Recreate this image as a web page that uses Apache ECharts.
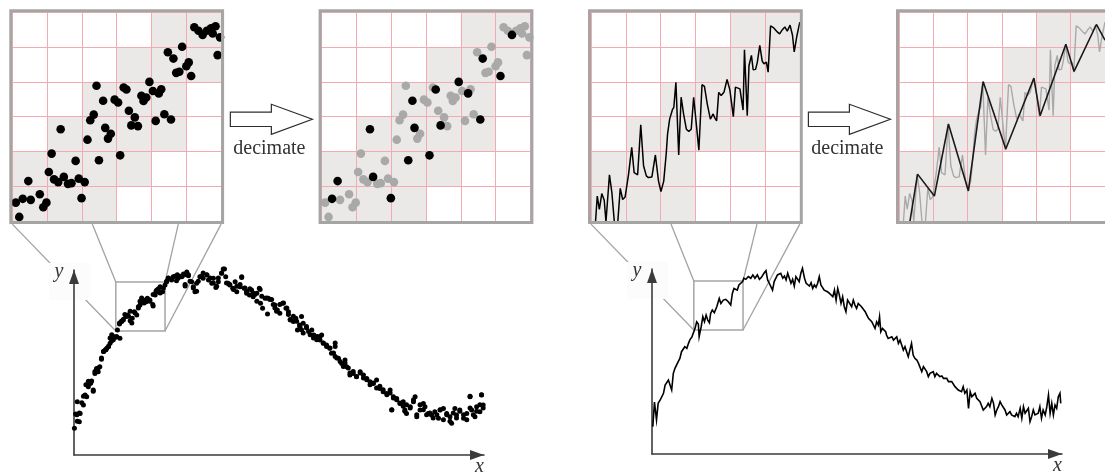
<!DOCTYPE html>
<html>
<head>
<meta charset="utf-8">
<script src="https://cdn.jsdelivr.net/npm/echarts@6/dist/echarts.min.js"></script>
<style>
  html, body { margin: 0; padding: 0; background: #ffffff; }
  #chart { width: 1105px; height: 475px; }
</style>
</head>
<body>
<div id="chart"></div>
<script>
// ---- data -------------------------------------------------------------

// Full scatter (x, y) in plot units: x 0..10, y 0..10
const scatterPoints = [
  [0.01,1.44],[0.04,2.22],[0.13,1.80],[0.15,2.25],[0.08,2.88],[0.19,2.83],[0.23,2.70],[0.27,3.24],
  [0.31,3.15],[0.35,3.69],[0.39,3.87],[0.43,4.00],[0.47,3.51],[0.51,4.41],[0.55,4.68],[0.59,4.50],
  [0.63,4.77],[0.67,5.17],[0.72,5.59],[0.76,5.68],[0.80,5.77],[0.84,5.86],[0.88,6.04],[0.92,6.18],
  [0.96,6.40],[1.02,6.36],[1.12,6.31],[1.06,6.76],[1.11,7.08],[1.16,7.21],[1.20,7.30],[1.27,7.48],
  [1.31,7.57],[1.37,7.26],[1.42,7.39],[1.47,7.75],[1.53,7.57],[1.57,8.02],[1.61,8.11],[1.65,8.38],
  [1.69,8.38],[1.76,8.29],[1.79,8.47],[1.85,8.38],[1.93,8.05],[1.98,8.65],[2.02,8.92],[2.06,8.83],
  [2.10,9.10],[2.16,8.83],[2.22,9.19],[2.26,9.37],[2.30,9.55],[2.38,9.46],[2.42,9.64],[2.50,9.42],
  [2.54,9.55],[2.63,9.64],[2.68,9.73],[2.75,9.82],[2.79,9.69],[2.71,9.14],[2.87,9.37],[2.91,9.10],
  [2.95,8.83],[2.99,9.28],[3.07,9.64],[3.15,9.55],[3.24,9.73],[3.28,9.46],[3.36,9.28],[3.40,9.55],
  [3.46,9.06],[3.52,9.37],[3.60,9.82],[3.64,10.05],[3.70,9.64],[3.76,9.28],[3.80,9.19],[3.87,9.01],
  [3.93,9.37],[3.97,8.83],[4.05,9.10],[4.09,9.64],[4.15,9.01],[4.21,8.74],[4.28,8.65],[4.33,8.92],
  [4.37,8.56],[4.46,8.74],[4.52,9.01],[4.55,8.20],[4.60,7.93],[4.66,8.47],[4.74,8.47],[4.72,7.62],
  [4.82,8.41],[4.90,8.11],[4.96,7.84],[5.02,7.66],[5.09,8.20],[5.17,7.93],[5.23,7.75],[5.28,7.30],
  [5.35,7.21],[5.41,7.39],[5.45,6.76],[5.50,7.03],[5.55,7.48],[5.59,7.12],[5.67,6.94],[5.72,6.67],
  [5.80,6.76],[5.85,6.49],[5.93,6.40],[6.00,6.22],[6.04,6.49],[6.08,6.04],[6.16,5.95],[6.24,5.77],
  [6.28,5.50],[6.37,5.86],[6.37,5.32],[6.45,5.23],[6.53,4.95],[6.61,5.14],[6.65,4.77],[6.73,4.32],
  [6.81,4.41],[6.89,4.23],[6.98,4.50],[7.06,4.32],[7.14,4.14],[7.22,3.96],[7.30,3.87],[7.38,4.05],
  [7.46,3.60],[7.54,3.42],[7.63,3.33],[7.71,3.51],[7.75,2.43],[7.79,3.15],[7.87,3.06],[7.95,2.79],
  [8.03,2.88],[8.07,2.43],[8.11,2.25],[8.20,2.61],[8.28,2.88],[8.32,3.15],[8.36,2.07],[8.44,2.43],
  [8.52,2.79],[8.56,2.61],[8.64,2.25],[8.72,2.16],[8.80,2.34],[8.89,1.98],[8.93,2.43],[9.01,2.52],
  [9.09,2.25],[9.17,2.07],[9.21,1.71],[9.29,2.52],[9.33,2.16],[9.41,2.43],[9.50,1.98],[9.58,2.25],
  [9.66,3.15],[9.70,2.43],[9.78,2.07],[9.82,2.61],[9.90,2.34],[9.94,3.24],[9.98,2.70],
  [0.07,2.18],[0.13,2.27],[0.08,1.82],[0.23,3.17],[0.29,3.80],[0.35,3.98],[0.41,3.89],[0.47,3.44],
  [0.51,4.52],[0.59,4.70],[0.67,5.24],[0.72,5.60],[0.78,5.69],[0.84,5.87],[0.88,6.32],[0.92,6.50],
  [0.96,6.23],[1.04,6.41],[1.11,7.14],[1.16,7.23],[1.20,7.32],[1.24,7.59],[1.33,7.50],[1.37,7.77],
  [1.41,7.14],[1.49,7.68],[1.57,7.95],[1.61,8.31],[1.65,8.49],[1.71,8.22],[1.77,8.40],[1.85,8.31],
  [1.92,8.13],[1.93,8.67],[2.00,8.85],[2.06,8.99],[2.10,8.76],[2.18,9.03],[2.26,9.39],[2.30,9.57],
  [2.38,9.53],[2.46,9.66],[2.52,9.75],[2.59,9.66],[2.67,9.78],[2.75,9.89],[2.79,9.75],[2.71,9.21],
  [2.83,9.39],[2.91,9.03],[2.99,8.85],[3.03,9.39],[3.11,9.66],[3.15,9.84],[3.24,9.75],[3.32,9.57],
  [3.40,9.30],[3.48,9.12],[3.52,9.57],[3.60,9.84],[3.67,10.05],[3.72,9.30],[3.80,9.21],[3.89,8.94],
  [3.97,9.12],[4.05,9.21],[4.09,9.60],[4.17,9.03],[4.21,8.85],[4.29,8.99],[4.37,8.76],[4.41,8.67],
  [4.46,8.31],[4.54,8.94],[4.58,8.58],[4.70,8.49],[4.78,8.40],[4.86,8.13],[4.90,7.95],[4.94,7.77],
  [5.02,8.13],[5.11,8.22],[5.19,7.95],[5.23,7.59],[5.27,7.32],[5.35,7.50],[5.43,7.23],[5.51,6.95],
  [5.55,6.77],[5.59,6.59],[5.67,6.86],[5.76,6.50],[5.84,6.32],[5.92,6.23],[6.00,6.41],[6.08,6.05],
  [6.16,5.87],[6.24,5.78],[6.33,5.51],[6.37,6.05],[6.41,5.24],[6.49,5.06],[6.57,4.79],[6.61,4.97],
  [6.69,4.70],[6.73,4.43],[6.81,4.52],[6.89,4.25],[6.98,4.43],[7.06,4.16],[7.14,4.07],[7.22,3.80],
  [7.30,3.89],[7.38,3.62],[7.46,3.71],[7.54,3.53],[7.63,3.26],[7.71,3.35],[7.75,2.45],[7.79,3.08],
  [7.87,2.99],[7.95,2.81],[8.03,2.63],[8.07,2.36],[8.11,2.72],[8.20,2.54],[8.28,2.99],[8.36,2.18],
  [8.44,2.72],[8.52,2.45],[8.60,2.18],[8.68,2.27],[8.76,2.00],[8.85,2.18],[8.93,2.45],[9.01,1.91],
  [9.09,2.18],[9.17,1.82],[9.25,2.27],[9.33,2.00],[9.41,2.36],[9.50,2.18],[9.58,1.91],[9.66,2.54],
  [9.74,2.18],[9.82,2.36],[9.90,2.72],[9.98,2.54],[9.66,3.17],[9.94,3.26]
];

// Full line series (x, y) in plot units
const linePoints = [
  [0.02,1.48],[0.06,2.81],[0.11,1.84],[0.15,2.74],[0.20,2.92],[0.24,3.10],[0.28,3.28],[0.32,3.73],
  [0.36,3.82],[0.40,4.00],[0.44,3.91],[0.48,3.46],[0.52,4.36],[0.56,4.63],[0.60,4.54],[0.64,4.99],
  [0.68,5.17],[0.72,5.53],[0.76,5.62],[0.80,5.80],[0.85,5.71],[0.89,5.98],[0.93,6.20],[0.97,6.31],
  [1.01,6.34],[1.05,6.79],[1.09,7.15],[1.13,7.03],[1.15,6.34],[1.20,6.88],[1.24,7.42],[1.28,7.15],
  [1.32,7.51],[1.36,7.24],[1.40,7.10],[1.43,7.60],[1.47,7.78],[1.52,7.64],[1.58,7.96],[1.64,8.41],
  [1.68,8.14],[1.74,8.32],[1.80,8.36],[1.86,8.23],[1.92,8.05],[1.96,8.68],[2.00,8.95],[2.04,9.05],
  [2.08,8.86],[2.12,9.14],[2.16,9.08],[2.21,9.32],[2.24,9.50],[2.29,9.44],[2.35,9.59],[2.41,9.50],
  [2.46,9.68],[2.51,9.50],[2.57,9.68],[2.62,9.44],[2.67,9.55],[2.73,9.77],[2.78,9.91],[2.82,9.41],
  [2.86,9.23],[2.90,9.05],[2.94,8.86],[2.98,9.32],[3.02,9.41],[3.06,9.68],[3.10,9.59],[3.14,9.77],
  [3.19,9.50],[3.23,9.62],[3.27,9.41],[3.31,9.77],[3.35,9.68],[3.39,9.23],[3.43,9.44],[3.47,9.08],
  [3.51,9.59],[3.55,9.68],[3.59,9.32],[3.63,9.77],[3.67,10.04],[3.72,9.50],[3.76,9.23],[3.80,9.32],
  [3.84,9.08],[3.88,9.26],[3.92,8.95],[3.96,9.14],[4.00,9.01],[4.04,9.23],[4.08,9.59],[4.12,9.14],
  [4.16,9.14],[4.20,8.86],[4.24,8.95],[4.28,8.77],[4.33,8.68],[4.37,8.77],[4.41,8.50],[4.45,8.86],
  [4.49,8.32],[4.53,8.95],[4.57,8.59],[4.61,8.14],[4.65,8.50],[4.69,7.96],[4.73,7.69],[4.77,8.32],
  [4.81,8.41],[4.87,7.96],[4.91,8.32],[4.95,8.05],[4.99,7.87],[5.03,8.14],[5.07,8.14],[5.11,7.96],
  [5.15,8.05],[5.20,7.69],[5.24,7.51],[5.28,7.33],[5.32,7.33],[5.36,7.15],[5.40,7.24],[5.44,6.79],
  [5.48,7.15],[5.52,6.97],[5.55,7.42],[5.58,6.61],[5.62,6.79],[5.66,6.79],[5.70,6.61],[5.72,6.43],
  [5.76,6.25],[5.80,6.16],[5.85,6.34],[5.89,6.16],[5.93,6.25],[5.97,6.34],[6.01,5.98],[6.05,6.16],
  [6.09,5.89],[6.13,5.62],[6.17,5.80],[6.21,5.53],[6.25,5.26],[6.29,5.62],[6.33,5.98],[6.37,5.35],
  [6.41,5.17],[6.46,5.08],[6.50,4.90],[6.54,4.99],[6.58,4.45],[6.62,4.72],[6.66,4.81],[6.70,4.45],
  [6.74,4.18],[6.78,4.36],[6.82,4.27],[6.86,4.45],[6.90,4.18],[6.94,4.36],[6.98,4.27],[7.02,4.18],
  [7.07,4.22],[7.11,4.09],[7.15,4.00],[7.19,4.09],[7.23,3.91],[7.27,3.82],[7.31,3.91],[7.35,4.00],
  [7.39,3.64],[7.43,3.73],[7.47,3.46],[7.51,3.55],[7.55,3.37],[7.59,3.64],[7.63,3.28],[7.68,3.46],
  [7.72,2.47],[7.76,3.37],[7.80,3.10],[7.84,3.01],[7.88,3.28],[7.92,3.01],[7.96,3.10],[8.00,2.83],
  [8.04,2.74],[8.08,2.38],[8.12,2.47],[8.16,2.56],[8.20,2.74],[8.24,2.56],[8.29,3.01],[8.33,2.74],
  [8.37,2.11],[8.41,2.38],[8.45,2.56],[8.49,2.83],[8.53,2.65],[8.57,2.65],[8.61,2.38],[8.65,2.11],
  [8.69,2.20],[8.73,2.29],[8.77,2.11],[8.81,2.11],[8.85,2.02],[8.89,2.20],[8.93,2.02],[8.98,2.47],
  [9.02,1.93],[9.06,2.56],[9.10,2.20],[9.14,2.11],[9.18,2.47],[9.22,1.75],[9.26,2.02],[9.30,2.38],
  [9.34,2.11],[9.38,2.02],[9.42,2.20],[9.46,2.56],[9.50,1.93],[9.54,2.38],[9.59,2.11],[9.63,2.56],
  [9.67,3.19],[9.71,2.20],[9.75,2.74],[9.79,2.11],[9.83,2.65],[9.87,2.47],[9.91,3.10],[9.95,3.28],
  [9.97,2.74]
];

// Zoom window shown in both magnified panels (plot units)
const zoomX = [1.02, 2.22];
const zoomY = [6.70, 9.35];

// Magnified scatter (cell units 0..6)
const zoomDots = [
  [5.23,5.57],[5.35,5.47],[5.47,5.35],[5.59,5.47],[5.71,5.54],[5.84,5.60],[5.76,5.39],[5.97,5.28],
  [5.90,4.77],[4.88,5.01],[4.47,4.85],[4.63,4.67],[5.07,4.56],[5.00,4.45],[4.80,4.29],[4.71,4.26],
  [5.14,4.17],[3.94,4.00],[3.20,3.84],[3.28,3.78],[2.42,3.89],[4.04,3.74],[4.28,3.79],[4.21,3.67],
  [3.71,3.60],[3.85,3.55],[3.77,3.45],[2.94,3.49],[3.04,3.41],[2.61,3.46],[3.35,3.17],[4.37,3.07],
  [4.56,2.92],[4.12,2.88],[3.52,2.98],[3.42,2.75],[3.61,2.73],[2.34,3.06],[2.24,2.90],[1.39,2.64],
  [2.67,2.68],[2.83,2.51],[2.75,2.37],[2.16,2.34],[1.13,1.94],[3.10,1.89],[1.82,1.73],[2.49,1.75],
  [1.05,1.41],[0.46,1.15],[1.20,1.20],[1.32,1.12],[1.48,1.27],[1.60,1.07],[1.70,1.09],[1.91,1.22],
  [2.08,1.12],[0.79,0.77],[0.53,0.61],[0.30,0.64],[0.10,0.53],[0.98,0.53],[0.89,0.40],[1.99,0.66],
  [0.20,0.12]
];
// Dots kept after decimation (indices into zoomDots)
const keptDots = [2, 11, 16, 17, 19, 23, 29, 32, 35, 39, 40, 45, 47, 49, 52, 59, 63];

// Magnified line (cell units 0..6)
const zoomLine = [
  [0.13,-0.02],[0.18,0.72],[0.24,0.34],[0.31,0.79],[0.38,0.60],[0.43,-0.02],[0.53,1.33],[0.60,0.82],
  [0.67,-0.02],[0.77,-0.02],[0.84,0.94],[0.91,0.62],[0.98,0.69],[1.08,1.35],[1.17,2.12],[1.24,1.39],
  [1.34,1.33],[1.43,2.77],[1.51,1.59],[1.59,1.30],[1.65,1.25],[1.75,1.27],[1.85,1.90],[1.94,1.15],
  [2.01,0.85],[2.09,1.15],[2.16,1.92],[2.20,2.50],[2.26,2.93],[2.34,3.20],[2.38,3.27],[2.44,3.99],
  [2.52,1.90],[2.59,3.56],[2.66,3.08],[2.74,2.64],[2.81,2.58],[2.88,2.64],[2.95,3.56],[3.00,3.54],
  [3.10,2.04],[3.19,3.92],[3.26,3.87],[3.34,3.37],[3.43,2.93],[3.51,3.08],[3.55,2.98],[3.61,2.88],
  [3.67,3.70],[3.74,3.61],[3.82,3.70],[3.91,4.07],[3.99,3.77],[4.09,3.00],[4.15,3.85],[4.20,3.87],
  [4.28,3.80],[4.37,3.19],[4.41,4.92],[4.49,3.03],[4.54,4.47],[4.61,4.76],[4.66,4.35],[4.73,4.36],
  [4.78,4.57],[4.85,5.05],[4.92,4.60],[4.97,4.52],[5.04,4.57],[5.09,4.28],[5.16,5.61],[5.24,5.56],
  [5.36,5.43],[5.42,5.38],[5.50,5.50],[5.57,5.58],[5.64,5.46],[5.72,5.63],[5.79,5.34],[5.84,4.86],
  [5.91,5.29],[6.00,5.72]
];
// Decimated line (cell units 0..6)
const thinLine = [
  [0.32,0.00],[0.54,1.35],[1.03,0.72],[1.44,2.79],[2.02,0.87],[2.45,4.01],[3.11,2.07],[3.93,4.11],
  [4.11,3.03],[4.86,5.08],[5.10,4.30],[5.75,5.65],[6.00,5.20]
];

// Occupied cells [column, row from bottom]
const dotCells = [
  [0,0],[1,0],[2,0],
  [0,1],[1,1],[2,1],[3,1],
  [1,2],[2,2],[3,2],[4,2],
  [2,3],[3,3],[4,3],
  [3,4],[4,4],[5,4],
  [4,5],[5,5]
];
const lineCells = [
  [0,0],[1,0],[2,0],
  [0,1],[1,1],[2,1],
  [1,2],[2,2],[3,2],[4,2],
  [2,3],[3,3],[4,3],
  [3,4],[4,4],[5,4],
  [4,5],[5,5]
];

// ---- layout -----------------------------------------------------------
const PLOTS = [
  { left: 74,  top: 270, width: 410, height: 185 },
  { left: 652, top: 269, width: 410, height: 185 }
];
const PANEL_TOP = 12.3;
const PANEL_SIZE = 208.8;
const PANEL_LEFTS = [12.3, 321.6, 591, 899];

const AXIS_COLOR = '#3b3b3b';
const PINK = '#f4aab3';
const SHADE = '#ebe9e8';
const FRAME = '#a5a5a5';
const DIM = '#a9a9a9';

const chart = echarts.init(document.getElementById('chart'), null, { renderer: 'canvas' });

function mainAxis(gridIndex, max) {
  return {
    gridIndex, type: 'value', min: 0, max, z: 5,
    axisLine: {
      show: true, onZero: true,
      symbol: ['none', 'triangle'], symbolSize: [10, 14], symbolOffset: [0, -7],
      lineStyle: { color: AXIS_COLOR, width: 1.6 }
    },
    axisTick: { show: false }, axisLabel: { show: false }, splitLine: { show: false }
  };
}
function panelAxis(gridIndex) {
  return {
    gridIndex, type: 'value', min: 0, max: 6, interval: 1, z: 0,
    axisLine: { show: false }, axisTick: { show: false }, axisLabel: { show: false },
    splitLine: { show: true, lineStyle: { color: PINK, width: 1 } }
  };
}
function cellSeries(gridIndex, cells) {
  return {
    type: 'custom', xAxisIndex: gridIndex, yAxisIndex: gridIndex, z: -1, silent: true,
    data: cells,
    renderItem(params, api) {
      const c = api.value(0), r = api.value(1);
      const a = api.coord([c, r + 1]);
      const b = api.coord([c + 1, r]);
      return { type: 'rect', shape: { x: a[0], y: a[1], width: b[0] - a[0], height: b[1] - a[1] },
               style: { fill: SHADE } };
    }
  };
}

// grid order: 0 main scatter, 1 panel, 2 decimated panel, 3 main line, 4 panel, 5 decimated panel
const grids = [
  PLOTS[0],
  { left: PANEL_LEFTS[0], top: PANEL_TOP, width: PANEL_SIZE, height: PANEL_SIZE },
  { left: PANEL_LEFTS[1], top: PANEL_TOP, width: PANEL_SIZE, height: PANEL_SIZE },
  PLOTS[1],
  { left: PANEL_LEFTS[2], top: PANEL_TOP, width: PANEL_SIZE, height: PANEL_SIZE },
  { left: PANEL_LEFTS[3], top: PANEL_TOP, width: PANEL_SIZE, height: PANEL_SIZE }
].map(g => Object.assign({ containLabel: false, show: false }, g));

const keptSet = new Set(keptDots);
const option = {
  animation: false,
  backgroundColor: '#ffffff',
  grid: grids,
  xAxis: [mainAxis(0, 10), panelAxis(1), panelAxis(2), mainAxis(3, 10), panelAxis(4), panelAxis(5)],
  yAxis: [mainAxis(0, 10), panelAxis(1), panelAxis(2), mainAxis(3, 10), panelAxis(4), panelAxis(5)],
  series: [
    { type: 'scatter', xAxisIndex: 0, yAxisIndex: 0, z: 6, clip: false, silent: true,
      data: scatterPoints, symbolSize: 5, itemStyle: { color: '#000', opacity: 1 } },

    cellSeries(1, dotCells),
    { type: 'scatter', xAxisIndex: 1, yAxisIndex: 1, z: 3, clip: true, silent: true,
      data: zoomDots, symbolSize: 8.6, itemStyle: { color: '#000', opacity: 1 } },

    cellSeries(2, dotCells),
    { type: 'scatter', xAxisIndex: 2, yAxisIndex: 2, z: 3, clip: true, silent: true,
      data: zoomDots.filter((d, i) => !keptSet.has(i)), symbolSize: 8.6,
      itemStyle: { color: DIM, opacity: 1 } },
    { type: 'scatter', xAxisIndex: 2, yAxisIndex: 2, z: 4, clip: true, silent: true,
      data: keptDots.map(i => zoomDots[i]), symbolSize: 8.6, itemStyle: { color: '#000', opacity: 1 } },

    { type: 'line', xAxisIndex: 3, yAxisIndex: 3, z: 6, clip: false, silent: true,
      data: linePoints, showSymbol: false, symbol: 'none',
      lineStyle: { color: '#000', width: 1.6, join: 'miter' } },

    cellSeries(4, lineCells),
    { type: 'line', xAxisIndex: 4, yAxisIndex: 4, z: 3, clip: true, silent: true,
      data: zoomLine, showSymbol: false, symbol: 'none',
      lineStyle: { color: '#000', width: 1.5 } },

    cellSeries(5, lineCells),
    { type: 'line', xAxisIndex: 5, yAxisIndex: 5, z: 3, clip: true, silent: true,
      data: zoomLine, showSymbol: false, symbol: 'none',
      lineStyle: { color: DIM, width: 1.4 } },
    { type: 'line', xAxisIndex: 5, yAxisIndex: 5, z: 4, clip: true, silent: true,
      data: thinLine, showSymbol: false, symbol: 'none',
      lineStyle: { color: '#1a1a1a', width: 1.6 } }
  ]
};
chart.setOption(option);

// ---- annotations: zoom boxes, connectors, frames, arrows, labels --------
const graphics = [];
const serif = '"Liberation Serif", "Times New Roman", serif';

[[0, 0], [3, 2]].forEach(([gridIndex, panelIdx], k) => {
  const plot = PLOTS[k];
  const bl = chart.convertToPixel({ gridIndex }, [zoomX[0], zoomY[0]]);
  const tr = chart.convertToPixel({ gridIndex }, [zoomX[1], zoomY[1]]);
  const tl = [bl[0], tr[1]], br = [tr[0], bl[1]];

  // zoom box
  graphics.push({ type: 'rect', z: 1,
    shape: { x: tl[0], y: tl[1], width: br[0] - tl[0], height: br[1] - tl[1] },
    style: { fill: 'none', stroke: FRAME, lineWidth: 1.5 } });

  // connectors from panel bottom edge to the box corners
  const px = PANEL_LEFTS[panelIdx], py = PANEL_TOP + PANEL_SIZE + 3;
  const starts = [0, 0.383, 0.795, 1.0].map(f => px + f * PANEL_SIZE);
  const ends = [bl, tl, tr, br];
  starts.forEach((sx, i) => {
    graphics.push({ type: 'line', z: 1, z2: 0,
      shape: { x1: sx, y1: py, x2: ends[i][0], y2: ends[i][1] },
      style: { stroke: '#a2a2a2', lineWidth: 1.3 } });
  });

  // soft patch behind the y label
  graphics.push({ type: 'rect', z: 1, z2: 10,
    shape: { x: plot.left - 25, y: plot.top - 7, width: 41, height: 37 },
    style: { fill: '#fcfcfc' } });

  graphics.push({ type: 'text', z: 12,
    style: { text: 'y', x: plot.left - 15, y: plot.top + 2, align: 'center', verticalAlign: 'middle',
             font: 'italic 20px ' + serif, fill: '#333' } });
  graphics.push({ type: 'text', z: 12,
    style: { text: 'x', x: plot.left + plot.width - 4.5, y: plot.top + plot.height + 11.5,
             align: 'center', verticalAlign: 'middle', font: 'italic 20px ' + serif, fill: '#333' } });
});

// panel frames
PANEL_LEFTS.forEach(l => {
  graphics.push({ type: 'rect', z: 10,
    shape: { x: l - 1.5, y: PANEL_TOP - 1.5, width: PANEL_SIZE + 3, height: PANEL_SIZE + 3 },
    style: { fill: 'none', stroke: FRAME, lineWidth: 3 } });
});

// "decimate" arrows between the panel pairs
[[0, 1], [2, 3]].forEach(([a, b]) => {
  const cx = (PANEL_LEFTS[a] + PANEL_SIZE + PANEL_LEFTS[b]) / 2;
  const cy = 119.3;
  graphics.push({ type: 'polygon', z: 10,
    shape: { points: [
      [cx - 41, cy - 7.2], [cx, cy - 7.2], [cx, cy - 15], [cx + 41, cy],
      [cx, cy + 15], [cx, cy + 7.2], [cx - 41, cy + 7.2]
    ] },
    style: { fill: '#ffffff', stroke: '#2e2e2e', lineWidth: 1.2 } });
  graphics.push({ type: 'text', z: 10,
    style: { text: 'decimate', x: cx - 2, y: 149, align: 'center', verticalAlign: 'middle',
             font: '20px ' + serif, fill: '#333' } });
});

chart.setOption({ graphic: { elements: graphics } });
</script>
</body>
</html>
